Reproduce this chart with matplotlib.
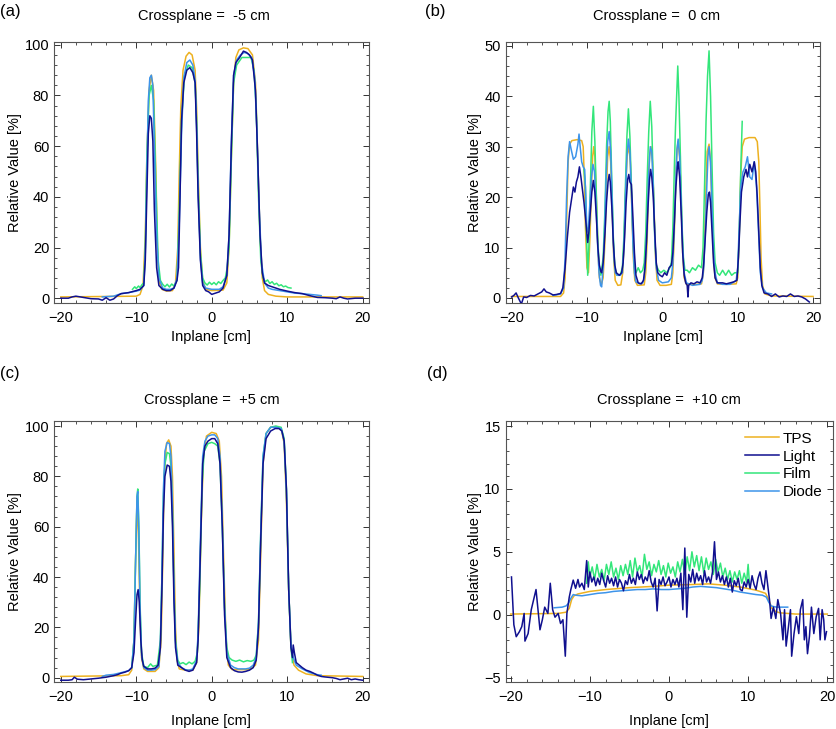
import numpy as np
import matplotlib
matplotlib.use('Agg')
import matplotlib.pyplot as plt
from matplotlib.ticker import MultipleLocator


plt.rc('font', family='Liberation Sans', size=10.5)


# ## Profile data (Inplane [cm], Relative Value [%])

# --- (a) Crossplane = -5 cm
a_tps_x = [-20, -10, -9.5, -9.1, -8.8, -8.6, -8.3, -8.0, -7.7, -7.4,
           -7.2, -7.0, -6.6, -6.0, -5.2, -4.8, -4.5, -4.3, -4.1, -3.8,
           -3.4, -3.0, -2.6, -2.2, -2.0, -1.8, -1.5, -1.2, -0.8, 0,
           1.5, 2.0, 2.3, 2.6, 2.9, 3.2, 3.6, 4.2, 4.8, 5.4,
           5.8, 6.1, 6.4, 6.7, 7.0, 7.5, 8.5, 10, 20]
a_tps = [0.5, 0.8, 1.5, 5, 25, 55, 82, 88, 82, 50,
         20, 7, 3.5, 2.8, 3, 6, 20, 50, 75, 90,
         95.5, 97, 96, 90, 75, 50, 20, 7, 3.5, 3,
         3.2, 6, 20, 55, 85, 95, 98, 98.8, 98.5, 96,
         85, 55, 25, 8, 3, 1.5, 0.8, 0.5, 0.5]

a_light_x = [-20, -19, -18.5, -18, -17, -16, -15, -14.5, -14, -13.5,
             -13, -12.5, -12, -11, -10, -9.5, -9.0, -8.8, -8.6, -8.4,
             -8.2, -8.0, -7.8, -7.6, -7.3, -7.0, -6.5, -6.0, -5.5, -5.0,
             -4.6, -4.4, -4.2, -4.0, -3.7, -3.3, -2.9, -2.5, -2.2, -2.0,
             -1.8, -1.5, -1.2, -0.8, -0.4, 0, 0.5, 1.0, 1.5, 2.0,
             2.3, 2.6, 2.9, 3.2, 3.7, 4.2, 4.6, 5.0, 5.4, 5.8,
             6.1, 6.4, 6.7, 7.0, 7.5, 8, 9, 10, 11, 12,
             13, 14, 15, 16, 16.5, 17, 17.5, 18, 19, 20]
a_light = [0, 0, 0.5, 0.8, 0.3, -0.2, -0.3, -0.8, 0.2, -0.8,
           -0.3, 1, 1.8, 2.2, 3, 3.5, 5, 15, 40, 65,
           72, 71, 62, 35, 12, 5, 3.5, 3, 3, 4,
           7, 12, 40, 70, 85, 90, 91, 89, 85, 65,
           40, 15, 5, 3, 2.5, 1.5, 2, 2.5, 4, 9,
           25, 60, 88, 93, 95, 97.5, 97, 96, 94, 82,
           55, 25, 10, 6, 5, 4.5, 3.5, 2.8, 2.2, 1.8,
           1, 0.3, 0.2, 0, -0.2, 0.5, 0, -0.3, 0, 0]

a_film_x = [-10.5, -10.2, -10, -9.7, -9.5, -9.2, -9, -8.8, -8.6, -8.3,
            -8.0, -7.7, -7.4, -7.1, -6.8, -6.5, -6.2, -5.9, -5.6, -5.3,
            -5.0, -4.8, -4.6, -4.3, -4.0, -3.6, -3.1, -2.6, -2.2, -2.0,
            -1.8, -1.5, -1.2, -0.9, -0.6, -0.3, 0, 0.3, 0.6, 0.9,
            1.2, 1.5, 1.8, 2.05, 2.3, 2.6, 2.9, 3.3, 4.0, 4.6,
            5.2, 5.6, 5.9, 6.2, 6.5, 6.8, 7.1, 7.4, 7.7, 8.0,
            8.3, 8.6, 8.9, 9.2, 9.5, 9.8, 10.1, 10.5]
a_film = [3.5, 4.5, 3.8, 4.8, 4.2, 5.5, 6, 20, 55, 80,
          84, 78, 45, 15, 7, 5.5, 4.5, 5.5, 4.4, 5.6,
          4.8, 6, 7, 35, 70, 88, 92, 91, 85, 70,
          45, 18, 8, 6, 5.2, 6.3, 5.4, 6.2, 5.3, 6.5,
          5.8, 7, 8, 12, 20, 55, 85, 92, 95, 95,
          95, 90, 75, 40, 15, 8, 6.5, 7.2, 5.8, 6.5,
          5.4, 5.9, 4.9, 5.3, 4.5, 4.8, 4.2, 4]

a_diode_x = [-14.5, -13, -12, -11, -10, -9.5, -9, -8.8, -8.6, -8.4,
             -8.2, -8.0, -7.8, -7.6, -7.3, -7.0, -6.5, -6, -5.5, -5,
             -4.6, -4.3, -4.0, -3.7, -3.3, -2.9, -2.5, -2.2, -2.0, -1.8,
             -1.5, -1.2, -0.8, 0, 1, 1.5, 2.0, 2.3, 2.6, 2.9,
             3.3, 3.8, 4.3, 4.8, 5.3, 5.7, 6.0, 6.3, 6.6, 7.0,
             7.5, 8, 9, 10, 11, 12, 13, 14, 14.5]
a_diode = [0.5, 0.8, 1.8, 2.2, 2.8, 3.2, 5, 18, 50, 78,
           87, 88, 84, 60, 25, 8, 4, 3.5, 3.5, 4,
           8, 30, 65, 87, 93, 94, 92, 86, 68, 42,
           16, 6, 4, 3.5, 3.5, 4.5, 9, 25, 62, 88,
           94, 96, 97, 96.5, 95, 87, 65, 35, 14, 6,
           4, 3.5, 3, 2.5, 2, 1.8, 1.5, 1.2, 1.0]

# --- (b) Crossplane = 0 cm
b_tps_x = [-20, -13.5, -13.1,
           -12.9, -12.7, -12.5, -12.3, -12.0, -11.3, -10.7, -10.5, -10.35, -10.2, -10.0,
           -9.8, -9.6, -9.4, -9.25, -9.1, -8.95, -8.75, -8.55, -8.35, -8.1,
           -7.85, -7.65, -7.45, -7.25, -7.05, -6.85, -6.65, -6.45, -6.25, -5.9,
           -5.5, -5.25, -5.05, -4.85, -4.65, -4.45, -4.25, -4.05, -3.85, -3.65, -3.3,
           -2.4, -2.2, -2.0, -1.85, -1.7, -1.5, -1.3, -1.1, -0.9, -0.7, -0.3, 0.5,
           1.2, 1.4, 1.6, 1.8, 1.95, 2.1, 2.3, 2.5, 2.7, 2.9, 3.2, 4.5,
           5.2, 5.45, 5.65, 5.8, 5.95, 6.2, 6.4, 6.6, 6.8, 7.0, 7.3, 8.5, 9.8,
           10.0, 10.2, 10.4, 10.6, 10.9, 11.5, 12.3, 12.6, 12.8, 12.95, 13.1, 13.3, 13.6, 14.5, 20]
b_tps = [0.3, 0.3, 1.0,
         4, 15, 27, 30.5, 31.2, 31.4, 31.2, 30, 24, 14, 6,
         5, 12, 22, 28, 30, 28, 20, 10, 4, 2.6,
         4, 10, 20, 28, 30, 27, 18, 8, 3.5, 2.5,
         2.6, 5, 12, 22, 28.5, 30, 27, 18, 8, 3.5, 2.5,
         2.6, 5, 12, 22, 28, 30, 27, 18, 8, 3.5, 2.5, 2.5,
         2.7, 5, 13, 24, 29.5, 31, 28, 19, 9, 4, 2.7, 2.7,
         2.8, 5, 14, 22, 29, 30.5, 27, 17, 8, 4, 2.8, 2.7, 2.8,
         4, 12, 24, 30, 31.5, 31.8, 31.8, 31, 27, 18, 8, 2.5, 0.8, 0.4, 0.3]

b_light_x = [-20, -19.7, -19.4, -19.1, -18.7, -18.4, -18.0, -17.5, -17.0, -16.5,
             -16.0, -15.7, -15.4, -15.0, -14.5, -14.0, -13.5, -13.2,
             -12.9, -12.6, -12.3, -12.0, -11.8, -11.6, -11.4, -11.2, -11.0, -10.8,
             -10.6, -10.4, -10.2, -10.0, -9.9,
             -9.75, -9.55, -9.35, -9.15, -8.95, -8.75, -8.55, -8.35, -8.15, -8.05,
             -7.85, -7.6, -7.4, -7.2, -7.05, -6.9, -6.7, -6.5, -6.3, -6.1, -5.7,
             -5.4, -5.2, -5.0, -4.8, -4.6, -4.45, -4.3, -4.1, -3.9, -3.7, -3.5, -3.2, -2.8,
             -2.5, -2.3, -2.1, -1.9, -1.7, -1.55, -1.4, -1.2, -1.0, -0.8, -0.6,
             -0.3, 0.0, 0.3, 0.6, 0.9, 1.2,
             1.4, 1.6, 1.8, 2.0, 2.1, 2.3, 2.5, 2.7, 2.9, 3.1,
             3.3, 3.4, 3.5, 3.8, 4.2, 4.6, 5.0, 5.3,
             5.5, 5.7, 5.9, 6.1, 6.25, 6.4, 6.6, 6.8, 7.0, 7.3,
             8.0, 8.5, 9.0, 9.5, 9.9,
             10.1, 10.3, 10.5, 10.8, 11.1, 11.3, 11.6, 11.9, 12.2, 12.4,
             12.6, 12.8, 13.0, 13.2,
             13.5, 14.0, 14.5, 15.0, 15.5, 16.0, 16.5, 17.0, 17.5, 18.0,
             18.5, 19.0, 19.5]
b_light = [0.2, 0.5, 1.0, 0, -1.2, 0.2, 0.1, 0.5, 0.4, 0.8,
           1.2, 1.8, 1.2, 1.0, 0.6, 0.7, 0.9, 2.0,
           6, 12, 17, 20, 22, 21, 23, 24, 26, 24,
           21.5, 19, 16, 12.5, 11,
           13, 17, 21, 23.3, 21, 16, 10, 6.5, 5.2, 5.0,
           7, 13, 19, 23, 24.5, 23, 18, 11, 6.5, 5, 4.5,
           5, 7, 12, 19, 23.5, 24.5, 23, 22.5, 16, 9, 4.5, 3, 2.8,
           3.5, 6, 11, 18, 23.5, 25.5, 24, 20, 13, 7, 5,
           4.5, 4.2, 5, 4.5, 6, 6.5,
           9, 15, 22, 26, 27, 24, 17, 9, 4.5, 3,
           2.5, 0.2, 2.5, 3, 2.8, 3.2, 3, 4,
           7, 12, 17, 20.5, 21, 19, 13, 7, 4, 3,
           3, 2.8, 3, 3.2, 3.5,
           8, 15, 21, 24, 25.5, 24, 26.5, 25, 27, 25,
           20, 13, 6, 2.5,
           1, 0.8, 0.3, 0.8, 0.2, 0.4, 0.3, 0.8, 0.3, 0.4,
           0.2, -0.2, -0.8]

b_film_x = [-10.4, -10.2, -10.05, -9.9,
            -9.75, -9.55, -9.35, -9.15, -8.95, -8.75, -8.55, -8.35, -8.15,
            -7.85, -7.6, -7.4, -7.2, -7.05, -6.9, -6.7, -6.5, -6.3, -6.0, -5.6,
            -5.3, -5.1, -4.9, -4.7, -4.5, -4.3, -4.1, -3.9, -3.7, -3.5, -3.2, -2.9, -2.6,
            -2.4, -2.2, -2.0, -1.8, -1.6, -1.4, -1.2, -1.0, -0.8, -0.5,
            -0.2, 0.2, 0.6, 1.0, 1.2,
            1.4, 1.6, 1.75, 1.9, 2.05, 2.2, 2.4, 2.6, 2.8, 3.0,
            3.3, 3.6, 4.0, 4.4, 4.8, 5.2,
            5.4, 5.6, 5.8, 6.0, 6.2, 6.4, 6.6, 6.8, 7.0, 7.3,
            7.6, 8.0, 8.4, 8.8, 9.2, 9.6, 10.0,
            10.2, 10.4, 10.6]
b_film = [25.5, 22, 12, 4.5,
          10, 22, 33, 38, 31, 20, 11, 6, 4.5,
          8, 18, 30, 37, 39, 35, 23, 12, 6, 4.5, 4.5,
          6, 12, 22, 32, 37.5, 32, 22, 12, 6, 5, 6, 5, 5.5,
          7, 13, 24, 33, 39, 34, 23, 12, 6.5, 5.5,
          5, 5.5, 5, 6, 7,
          14, 26, 34, 40, 46, 40, 28, 15, 8, 5.5,
          5.5, 5, 6, 5.5, 6.5, 6,
          10, 22, 35, 44, 49, 40, 26, 13, 7, 5,
          4.5, 5.5, 4.5, 5.5, 4.5, 5, 5,
          12, 25, 35]

b_diode_x = [-14.5, -13.5, -13.1,
             -12.9, -12.7, -12.5, -12.3, -12.1, -11.8, -11.5, -11.2, -11.05, -10.9,
             -10.7, -10.5, -10.3, -10.15, -10.0,
             -9.8, -9.6, -9.4, -9.2, -9.0, -8.8, -8.6, -8.4, -8.2, -8.05,
             -7.85, -7.65, -7.45, -7.25, -7.05, -6.85, -6.65, -6.45, -6.25, -6.0, -5.6,
             -5.3, -5.1, -4.9, -4.7, -4.5, -4.3, -4.1, -3.9, -3.7, -3.5, -3.0, -2.6,
             -2.4, -2.2, -2.0, -1.8, -1.6, -1.4, -1.2, -1.0, -0.8, -0.5,
             0.0, 0.8, 1.2,
             1.4, 1.6, 1.8, 1.95, 2.1, 2.3, 2.5, 2.7, 2.9, 3.2,
             4.0, 5.0, 5.3,
             5.5, 5.7, 5.9, 6.05, 6.2, 6.4, 6.6, 6.8, 7.0, 7.3,
             8.0, 9.0, 9.8,
             10.0, 10.2, 10.4, 10.7, 11.0, 11.3, 11.6, 11.9, 12.2, 12.5,
             12.8, 13.0, 13.3, 13.8, 14.5]
b_diode = [0.5, 0.8, 2,
           8, 20, 28, 31, 29.5, 27.5, 28, 30.5, 32.5, 30,
           27, 26, 25.5, 20, 13,
           14, 19, 24, 26.5, 25, 19, 11, 5, 2.5, 2.2,
           6, 14, 24, 31, 33, 29, 19, 9, 5, 4.5, 4.5,
           5, 10, 20, 28, 31.5, 29, 21, 11, 5, 3.2, 2.8, 3,
           4, 8, 16, 25, 30, 29, 22, 12, 6, 3.5,
           3, 3.2, 4,
           7, 15, 24, 29.5, 31.5, 28, 19, 10, 5, 3,
           2.5, 2.7, 3.5,
           6, 13, 22, 28, 30, 27, 18, 9, 5, 3,
           2.7, 2.7, 3.5,
           6, 14, 22, 25, 26, 28, 24, 23.5, 27, 22,
           12, 5, 2, 1, 0.8]

# --- (c) Crossplane = +5 cm
c_tps_x = [-20, -12, -11, -10.6,
           -10.3, -10.1, -9.9, -9.7, -9.5, -9.3, -9.0, -8.5, -7.5,
           -7.0, -6.7, -6.5, -6.3, -6.0, -5.7, -5.4, -5.2, -5.0, -4.8, -4.6, -4.3, -3.5,
           -2.5, -2.0, -1.7, -1.4, -1.1, -0.7, 0.0, 0.6, 1.0, 1.3, 1.6, 1.9, 2.2, 2.7, 5.0,
           5.8, 6.2, 6.5, 6.8, 7.2, 7.8, 8.5, 9.2, 9.6, 9.9, 10.2, 10.5, 10.9, 11.5, 12.5, 14, 20]
c_tps = [0.5, 0.8, 1.2, 3,
         15, 45, 70, 55, 25, 8, 3.5, 2.5, 2.5,
         4, 15, 45, 80, 93, 94.5, 92, 80, 50, 20, 7, 3.5, 3,
         3, 6, 20, 60, 88, 96, 97.5, 97, 94, 80, 45, 15, 5, 3.2, 3.2,
         5, 15, 50, 85, 97, 99.5, 99.8, 99, 93, 70, 35, 12, 5, 3, 1.5, 0.8, 0.5]

c_light_x = [-20, -19, -18.5, -18.2, -17.8, -17, -16, -15, -14, -13, -12.5, -12, -11.5, -11, -10.6,
             -10.3, -10.1, -9.9, -9.75, -9.6, -9.4, -9.2, -9.0, -8.5, -8.0, -7.5, -7.1,
             -6.8, -6.6, -6.4, -6.2, -5.9, -5.6, -5.4, -5.2, -5.0, -4.8, -4.5, -4.0, -3.5, -3.0, -2.5,
             -2.0, -1.8, -1.5, -1.2, -0.9, -0.5, 0.0, 0.4, 0.8, 1.1,
             1.4, 1.7, 2.0, 2.5, 3.0, 3.5, 4.0, 4.5, 5.0, 5.5,
             5.9, 6.2, 6.5, 6.8, 7.2, 7.8, 8.4, 8.9, 9.3, 9.6,
             9.9, 10.2, 10.5, 10.7, 10.8, 10.95, 11.2, 11.6, 12, 12.5, 13, 13.5, 14,
             14.5, 15, 16, 16.5, 17, 17.5, 18, 18.5, 19, 19.5, 20]
c_light = [-1.0, -1.0, -0.8, 0.2, -0.6, -0.8, -0.5, -0.2, 0.2, 0.8, 1.2, 1.8, 2.2, 2.8, 4,
           10, 22, 33, 35, 30, 15, 7, 4.5, 3.5, 3.5, 3.8, 5,
           12, 35, 65, 80, 84.5, 84, 78, 60, 30, 12, 5, 4, 3, 2.5, 3,
           6, 15, 50, 85, 92, 94, 95, 95, 93, 85,
           60, 25, 8, 4, 2.8, 2.3, 2.2, 2.5, 3, 4,
           7, 20, 55, 85, 95, 98, 99, 99, 98, 94,
           75, 35, 12, 8, 13, 10, 6, 5, 4, 3, 2.5, 1.8, 1.0,
           0.5, 0.3, 0, -0.3, -0.8, -0.5, -0.2, -0.8, -0.5, -0.8, -1.0]

c_film_x = [-10.6, -10.3, -10.1, -9.9, -9.8, -9.65, -9.5, -9.3, -9.0, -8.5, -8.1, -7.8, -7.2,
            -6.8, -6.6, -6.4, -6.2, -5.9, -5.6, -5.4, -5.2, -5.0, -4.8, -4.5, -4.2, -3.8,
            -3.4, -3.0, -2.6, -2.2,
            -1.9, -1.6, -1.3, -1.0, -0.5, 0.0, 0.4, 0.8, 1.1, 1.4, 1.7, 2.0, 2.3, 2.7, 3.2,
            3.7, 4.2, 4.7, 5.2, 5.6, 5.9,
            6.2, 6.5, 6.8, 7.2, 7.8, 8.5, 9.2, 9.6, 9.9, 10.2, 10.5, 10.7]
c_film = [4, 15, 45, 72, 75, 60, 30, 10, 4.5, 4, 5.5, 4.5, 5,
          15, 40, 72, 85, 89.5, 89, 84, 65, 35, 15, 7, 5.5, 6,
          5.2, 6.2, 5.5, 6.5,
          10, 35, 75, 90, 93, 93.5, 93, 92, 85, 60, 28, 12, 8, 7, 6.5,
          7, 6.3, 6.8, 6.5, 7, 9,
          22, 58, 88, 97, 99.5, 100, 99.5, 95, 75, 35, 12, 6]

c_diode_x = [-14.5, -14, -13, -12, -11, -10.6, -10.3, -10.1, -9.9, -9.8,
             -9.65, -9.5, -9.3, -9.0, -8.5, -8, -7.5, -7.0,
             -6.8, -6.6, -6.4, -6.2, -5.9, -5.6, -5.4, -5.2, -5.0, -4.8,
             -4.5, -4, -3.5, -3, -2.5,
             -2.0, -1.8, -1.5, -1.2, -0.9, -0.5, 0, 0.4, 0.8, 1.1,
             1.4, 1.7, 2.0, 2.5, 3, 3.5, 4, 4.5, 5, 5.5,
             5.9, 6.2, 6.5, 6.8, 7.2, 7.8, 8.5, 9.2, 9.6, 9.9,
             10.2, 10.5, 10.8, 11.2, 12, 13, 14, 14.5]
c_diode = [0.5, 1.0, 1.3, 2, 2.8, 4, 15, 45, 72, 74,
           58, 28, 9, 4, 3, 3, 3.2, 4.5,
           14, 40, 75, 90, 93.5, 93, 88, 68, 35, 14,
           6, 4, 3.2, 3, 3.5,
           7, 18, 55, 88, 94, 96, 96.5, 96.5, 95, 88,
           62, 28, 10, 5, 4, 3.5, 3.5, 3.5, 3.8, 5,
           8, 22, 58, 88, 97, 99.5, 99.5, 99, 94, 74,
           35, 13, 8, 5, 3.5, 2, 1.2, 1]

# --- (d) Crossplane = +10 cm
d_tps_x = [-20, -14, -13, -12.6, -12.3, -12.0, -11.5, -10, -8, -5,
           -2, 0, 3, 5, 7, 9, 11, 12.2, 12.6, 13.0,
           13.5, 14, 16, 20]
d_tps = [0.05, 0.1, 0.2, 0.5, 1.2, 1.5, 1.65, 1.85, 2.0, 2.15,
         2.25, 2.35, 2.4, 2.45, 2.35, 2.2, 1.95, 1.7, 1.2, 0.5,
         0.25, 0.15, 0.05, 0.05]

d_light_x = [-19.9, -19.6, -19.3, -18.9, -18.6, -18.3, -18.2, -17.8, -17.4, -17.1,
             -16.8, -16.5, -16.3, -16.0, -15.7, -15.3, -15.0, -14.7, -14.4, -14.0,
             -13.7, -13.4, -13.1, -12.9, -12.6, -12.4, -12.1, -11.8, -11.5, -11.3,
             -11.0, -10.7, -10.4, -10.2,
             -10.0, -9.75, -9.5, -9.25, -9.0, -8.75, -8.5, -8.25, -8.0, -7.75,
             -7.5, -7.25, -7.0, -6.75, -6.5, -6.25, -6.0, -5.75, -5.5, -5.25,
             -5.0, -4.75, -4.5, -4.25, -4.0, -3.75, -3.5, -3.25, -3.0, -2.75,
             -2.5, -2.25, -2.0, -1.75, -1.5, -1.25, -1.0, -0.75, -0.5, -0.25,
             0.0, 0.25, 0.5, 0.75, 1.0, 1.25, 1.5, 1.75, 2.0, 2.25,
             2.5, 2.75, 3.0, 3.25, 3.5, 3.75, 4.0, 4.25, 4.5, 4.75,
             5.0, 5.25, 5.5, 5.75, 6.0, 6.25, 6.5, 6.75, 7.0, 7.25,
             7.5, 7.75, 8.0, 8.25, 8.5, 8.75, 9.0, 9.25, 9.5, 9.75,
             10.0, 10.25, 10.5, 10.75, 11.0, 11.25, 11.5, 11.75, 12.0, 12.25, 12.5,
             12.7, 12.9, 13.2, 13.5, 13.75, 14.1, 14.4, 14.6, 14.8, 15.1,
             15.35, 15.5, 15.8, 16.1, 16.4, 16.6, 16.9, 17.1, 17.3, 17.5,
             17.75, 18.0, 18.3, 18.6, 18.9, 19.1, 19.35, 19.55, 19.7, 19.9]
d_light = [3.0, -0.8, -1.75, -1.35, -0.95, 0.1, -2.1, -1.5, 0.4, 1.2,
           2.0, 0.1, -1.2, -0.4, 0.6, 0.1, 2.5, 0.4, -0.2, 0.1,
           -0.7, -0.4, -3.3, 0.1, 1.4, 2.0, 2.75, 2.1, 2.8, 2.2,
           2.5, 2.0, 4.3, 2.2,
           3.4, 2.6, 3.0, 2.3, 2.9, 2.4, 3.3, 2.7, 2.2, 3.1,
           2.5, 2.9, 2.3, 3.0, 2.2, 2.8, 2.5, 1.9, 2.7, 2.4,
           3.2, 2.5, 2.9, 2.4, 3.4, 2.8, 3.2, 2.5, 3.0, 2.7,
           3.5, 2.6, 2.2, 2.9, 0.3, 2.8, 2.4, 3.0, 2.3, 2.6,
           3.0, 2.2, 2.8, 2.4, 2.9, 2.2, 3.3, 0.4, 5.3, -0.2,
           3.2, 2.6, 3.6, 2.5, 3.3, 2.7, 3.1, 2.4, 3.5, 2.6,
           3.0, 2.5, 3.4, 5.8, 2.8, 3.4, 2.6, 3.1, 2.4, 3.0,
           2.2, 2.9, 1.8, 2.7, 2.3, 2.9, 2.0, 1.9, 2.6, 2.2,
           2.8, 2.1, 3.1, 2.4, 2.0, 2.9, 3.4, 2.5, 2.0, 3.5, 2.2,
           1.2, -0.3, 0.6, -0.3, 1.2, 0.1, -2.0, 0.4, -2.5, -0.95,
           0.4, -3.3, -1.5, -0.16, -1.5, 0.4, 1.2, -2.0, -0.95, -3.1,
           -1.7, 0.6, -1.5, -0.16, 0.5, -2.0, 0.4, -0.4, -2.0, -1.35]

d_film_x = [-10.4, -10.2, -10.0, -9.7, -9.4, -9.1, -8.8, -8.5, -8.2, -7.9,
            -7.6, -7.3, -7.0, -6.7, -6.4, -6.1, -5.8, -5.5, -5.2, -4.9,
            -4.6, -4.3, -4.0, -3.7, -3.4, -3.1, -2.8, -2.5, -2.2, -1.9,
            -1.6, -1.3, -1.0, -0.7, -0.4, -0.1, 0.2, 0.5, 0.8, 1.1,
            1.4, 1.7, 2.0, 2.3, 2.6, 2.9, 3.2, 3.5, 3.8, 4.1,
            4.4, 4.7, 5.0, 5.3, 5.6, 5.9, 6.2, 6.5, 6.8, 7.1,
            7.4, 7.7, 8.0, 8.3, 8.6, 8.9, 9.2, 9.5, 9.8, 10.0,
            10.2]
d_film = [2.5, 4.2, 3.0, 3.8, 2.8, 4.0, 3.0, 3.6, 2.7, 4.0,
          3.2, 4.2, 3.0, 3.7, 2.8, 3.9, 3.1, 4.0, 3.2, 4.3,
          3.0, 4.5, 3.4, 3.9, 3.0, 4.8, 3.6, 4.2, 3.1, 4.0,
          3.4, 4.3, 3.2, 3.9, 3.0, 4.1, 3.3, 3.8, 3.0, 4.2,
          3.4, 4.4, 3.2, 4.6, 3.5, 5.0, 3.8, 4.7, 3.5, 4.6,
          3.3, 4.5, 3.6, 4.2, 3.2, 4.4, 3.4, 4.1, 3.0, 3.7,
          2.8, 3.5, 2.6, 3.4, 2.8, 3.5, 2.5, 3.3, 2.6, 4.0,
          2.2]

d_diode_x = [-14.5, -13.5, -13.0, -12.7, -12.4, -12.1, -11.8, -11.0, -10.0, -9.0,
             -8, -7, -6, -5, -4, -3, -2, -1, 0, 1,
             2, 3, 4, 5, 6, 7, 8, 9, 10, 11,
             11.8, 12.3, 12.6, 12.9, 13.2, 13.6, 14.0, 15.0]
d_diode = [0.55, 0.6, 0.7, 0.9, 1.3, 1.6, 1.55, 1.5, 1.6, 1.7,
           1.75, 1.85, 1.9, 1.95, 2.0, 2.0, 2.05, 2.0, 2.0, 2.05,
           2.1, 2.2, 2.25, 2.2, 2.15, 2.05, 1.95, 1.8, 1.7, 1.6,
           1.55, 1.4, 1.0, 0.7, 0.65, 0.6, 0.6, 0.6]


# ## Plot

colors = {'TPS': '#EDB120', 'Light': '#10108F', 'Film': '#33E67A', 'Diode': '#3D94EA'}
zorders = {'TPS': 2, 'Light': 5, 'Film': 3, 'Diode': 4}

panels = [
    # label, title, title x, axes rect, xlim, ylim, y major, data
    ('(a)', 'Crossplane =  -5 cm', 0.475, [0.0645, 0.584, 0.376, 0.358],
     (-20.9, 20.8), (-2, 101), 20,
     [('TPS', a_tps_x, a_tps), ('Light', a_light_x, a_light),
      ('Film', a_film_x, a_film), ('Diode', a_diode_x, a_diode)]),
    ('(b)', 'Crossplane =  0 cm', 0.48, [0.604, 0.584, 0.3755, 0.358],
     (-20.8, 20.9), (-1.05, 50.7), 10,
     [('TPS', b_tps_x, b_tps), ('Light', b_light_x, b_light),
      ('Film', b_film_x, b_film), ('Diode', b_diode_x, b_diode)]),
    ('(c)', 'Crossplane =  +5 cm', 0.5, [0.0645, 0.0645, 0.376, 0.358],
     (-20.9, 20.8), (-1.7, 102), 20,
     [('TPS', c_tps_x, c_tps), ('Light', c_light_x, c_light),
      ('Film', c_film_x, c_film), ('Diode', c_diode_x, c_diode)]),
    ('(d)', 'Crossplane =  +10 cm', 0.5, [0.604, 0.0645, 0.391, 0.358],
     (-20.65, 20.7), (-5.35, 15.4), 5,
     [('TPS', d_tps_x, d_tps), ('Light', d_light_x, d_light),
      ('Film', d_film_x, d_film), ('Diode', d_diode_x, d_diode)]),
]

label_pos = {'(a)': (0.0, 0.984), '(b)': (0.508, 0.984),
             '(c)': (0.0, 0.488), '(d)': (0.510, 0.487)}

fig = plt.figure(figsize=(8.37, 7.29), dpi=100)

for i, (lab, title, tx, rect, xlim, ylim, ymaj, series) in enumerate(panels):
    ax = fig.add_axes(rect)
    for name, xs, ys in series:
        ax.plot(xs, ys, color=colors[name], lw=1.1, label=name, zorder=zorders[name])

    ax.set_xlim(*xlim)
    ax.set_ylim(*ylim)
    ax.xaxis.set_major_locator(MultipleLocator(10))
    ax.xaxis.set_minor_locator(MultipleLocator(2))
    ax.yaxis.set_major_locator(MultipleLocator(ymaj))
    ax.yaxis.set_minor_locator(MultipleLocator(ymaj / 5))
    ax.tick_params(which='both', direction='in', top=True, right=True, colors='#333333',
                   labelcolor='black', labelsize=10.5)
    ax.tick_params(which='major', length=4, width=0.7)
    ax.tick_params(which='minor', length=2, width=0.6)
    ax.tick_params(axis='x', which='major', pad=5.5)
    for sp in ax.spines.values():
        sp.set_color('#555555')
        sp.set_linewidth(0.8)

    top_row = i < 2
    ax.set_xlabel('Inplane [cm]', fontsize=10.5, labelpad=4 if top_row else 7.6)
    ax.set_ylabel('Relative Value [%]', fontsize=10.5, labelpad=1.8)
    ax.set_title(title, fontsize=10.5, x=tx, pad=16 if top_row else 12)

    fig.text(label_pos[lab][0], label_pos[lab][1], lab, fontsize=12, va='center', ha='left')

    if lab == '(d)':
        ax.legend(loc='upper right', frameon=False, fontsize=11, handlelength=2.2,
                  handletextpad=0.25, labelspacing=0.25, borderaxespad=0.3)

fig.savefig('out.png', dpi=100)
